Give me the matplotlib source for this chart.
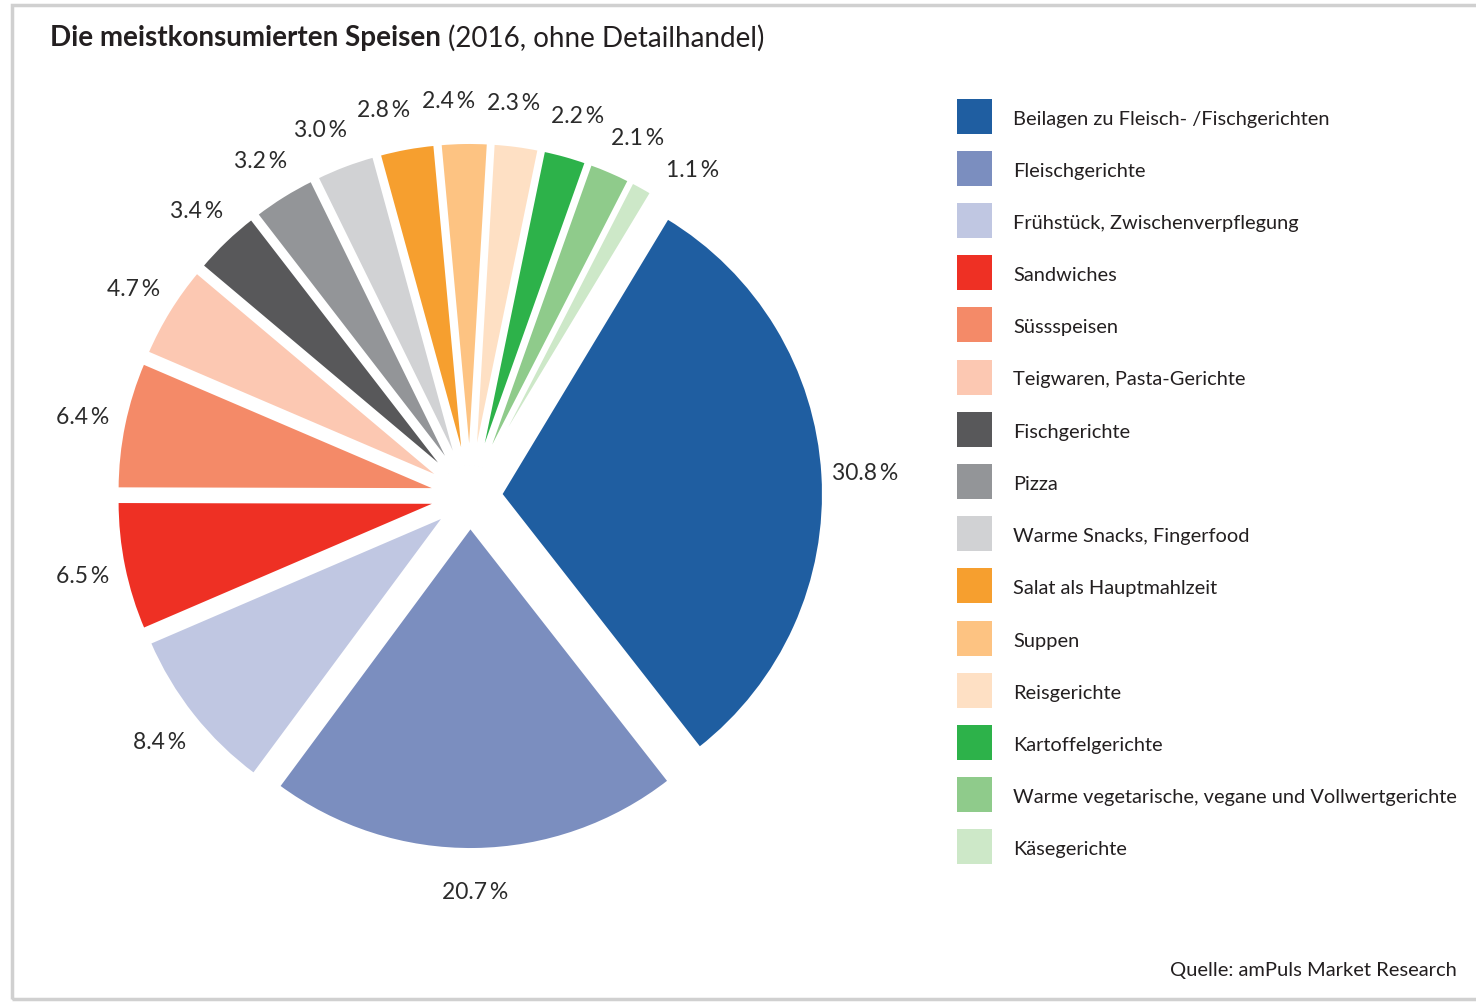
import numpy as np
import matplotlib.pyplot as plt
from matplotlib.patches import Rectangle

plt.rcParams['font.family'] = ['Lato', 'DejaVu Sans']

# data
categories = ['Beilagen zu Fleisch- /Fischgerichten', 'Fleischgerichte',
              'Frühstück, Zwischenverpflegung', 'Sandwiches', 'Süssspeisen',
              'Teigwaren, Pasta-Gerichte', 'Fischgerichte', 'Pizza',
              'Warme Snacks, Fingerfood', 'Salat als Hauptmahlzeit', 'Suppen',
              'Reisgerichte', 'Kartoffelgerichte',
              'Warme vegetarische, vegane und Vollwertgerichte', 'Käsegerichte']
shares = [30.8, 20.7, 8.4, 6.5, 6.4, 4.7, 3.4, 3.2, 3.0, 2.8, 2.4, 2.3, 2.2, 2.1, 1.1]
colors = ['#1f5ea1', '#7b8ebf', '#c0c7e2', '#ee3024', '#f48a68', '#fcc8b2',
          '#58585a', '#939598', '#d1d2d4', '#f69f2f', '#fdc382', '#fee0c4',
          '#2db24a', '#8fcb8b', '#cde8c8']

W, H = 1476, 1003
fig = plt.figure(figsize=(W / 100, H / 100), dpi=100)

# frame around the chart
fig.patches.append(Rectangle((12 / W, 3 / H), 1.2, (997 - 3) / H, transform=fig.transFigure,
                             fill=False, edgecolor='#d0d0d0', lw=2.5))

# pie axes: centre at (470, 497) px, radius 323 px
cx, cy, r = 470, 497, 323
half = 1.4 * r
ax = fig.add_axes([(cx - half) / W, (H - cy - half) / H, 2 * half / W, 2 * half / H])

wedges, _ = ax.pie(shares, colors=colors, startangle=58.9, counterclock=False,
                   explode=[0.095] * len(shares),
                   wedgeprops=dict(edgecolor='white', linewidth=2.4))

# label angles: wedge mid angles, spread a bit where slices are thin
ang = []
prev = None
for w in wedges:
    a = (w.theta1 + w.theta2) / 2
    while prev is not None and a > prev:
        a -= 360
    ang.append(a)
    prev = a
ang = np.array(ang)
min_sep = 9.5
for _ in range(300):
    for i in range(len(ang) - 1):
        d = ang[i] - ang[i + 1]
        if d < min_sep:
            ang[i] += (min_sep - d) / 2
            ang[i + 1] -= (min_sep - d) / 2

for w, a, v in zip(wedges, ang, shares):
    t = np.deg2rad(a)
    x0, y0 = w.center
    ax.text(x0 + 1.13 * np.cos(t), y0 + 1.13 * np.sin(t), f'{v:.1f}\u2009%',
            ha='center', va='center', fontsize=16.5, color='#2b2b2b')

ax.set_xlim(-1.4, 1.4)
ax.set_ylim(-1.4, 1.4)
ax.axis('off')

# title
t1 = fig.text(50 / W, 1 - 38 / H, 'Die meistkonsumierten Speisen', fontsize=20,
              fontweight='bold', color='#231f20', va='center')
fig.canvas.draw()
bb = t1.get_window_extent()
fig.text(bb.x1 / W + 7 / W, 1 - 38 / H, '(2016, ohne Detailhandel)', fontsize=20,
         color='#231f20', va='center')

# legend
for i, (name, c) in enumerate(zip(categories, colors)):
    yc = 117 + i * 52.2
    fig.patches.append(Rectangle((957 / W, 1 - (yc + 17.5) / H), 35 / W, 35 / H,
                                 transform=fig.transFigure, facecolor=c, edgecolor='none'))
    fig.text(1013 / W, 1 - (yc + 2) / H, name, fontsize=14.4, color='#231f20', va='center')

fig.text(1457 / W, 1 - 971 / H, 'Quelle: amPuls Market Research', fontsize=14.5,
         color='#231f20', ha='right', va='center')

fig.savefig('out.png', dpi=100)
